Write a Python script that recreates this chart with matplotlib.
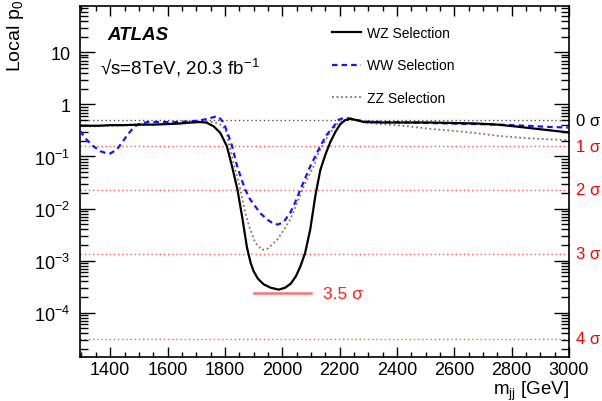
import matplotlib
matplotlib.use("Agg")
import matplotlib.pyplot as plt
import matplotlib.transforms as mtransforms
from matplotlib.ticker import FixedLocator, LogLocator, MultipleLocator, NullFormatter

plt.rcParams["font.family"] = ["Liberation Sans", "DejaVu Sans"]
plt.rcParams["mathtext.fontset"] = "custom"
plt.rcParams["mathtext.rm"] = "Liberation Sans"
plt.rcParams["mathtext.it"] = "Liberation Sans:italic"
plt.rcParams["mathtext.bf"] = "Liberation Sans:bold"

# WZ selection (black solid)
wz_mass = [1295, 1320, 1360, 1400, 1450, 1500, 1550, 1600, 1640, 1680, 1710, 1735,
           1761, 1784, 1807, 1825, 1844, 1860, 1877, 1890, 1900, 1915, 1935, 1960,
           1988, 2010, 2030, 2048, 2063, 2080, 2098, 2116, 2133, 2151, 2168, 2186,
           2203, 2220, 2238, 2260, 2285, 2350, 2420, 2517, 2600, 2680, 2750, 2810,
           2867, 2930, 3000]
wz_p0 = [0.39, 0.39, 0.39, 0.40, 0.40, 0.41, 0.41, 0.42, 0.43, 0.45, 0.46, 0.45,
         0.38, 0.285, 0.158, 0.065, 0.023, 0.0071, 0.0018, 0.0009, 0.00063, 0.00045,
         0.00035, 0.0003, 0.000276, 0.0003, 0.00036, 0.0005, 0.00076, 0.0014,
         0.004, 0.018, 0.055, 0.11, 0.19, 0.3, 0.42, 0.5, 0.53, 0.5, 0.46, 0.45,
         0.45, 0.45, 0.44, 0.43, 0.41, 0.38, 0.35, 0.32, 0.29]

# WW selection (blue dashed)
ww_mass = [1295, 1305, 1318, 1340, 1365, 1385, 1400, 1423, 1446, 1460, 1476, 1490,
           1505, 1532, 1580, 1630, 1672, 1710, 1740, 1765, 1778, 1795, 1810, 1825,
           1842, 1857, 1871, 1888, 1906, 1925, 1947, 1965, 1984, 2005, 2028, 2045,
           2063, 2080, 2098, 2115, 2133, 2155, 2180, 2197, 2215, 2235, 2260, 2290,
           2350, 2450, 2517, 2600, 2680, 2750, 2850, 2930, 3000]
ww_p0 = [0.31, 0.26, 0.21, 0.16, 0.127, 0.116, 0.114, 0.136, 0.2, 0.26, 0.33, 0.39,
         0.43, 0.46, 0.46, 0.46, 0.47, 0.49, 0.53, 0.58, 0.58, 0.45, 0.28, 0.16,
         0.068, 0.038, 0.023, 0.015, 0.011, 0.008, 0.0062, 0.0053, 0.0049, 0.0055,
         0.0083, 0.013, 0.023, 0.038, 0.065, 0.1, 0.158, 0.26, 0.38, 0.51, 0.55,
         0.54, 0.5, 0.47, 0.46, 0.45, 0.44, 0.43, 0.42, 0.41, 0.39, 0.37, 0.36]

# ZZ selection (brown dotted)
zz_mass = [1295, 1350, 1400, 1450, 1500, 1550, 1600, 1650, 1700, 1730, 1753, 1770,
           1790, 1805, 1816, 1835, 1854, 1870, 1885, 1906, 1930, 1950, 1982, 2005,
           2028, 2050, 2070, 2090, 2110, 2125, 2140, 2165, 2192, 2215, 2235, 2260,
           2285, 2350, 2420, 2517, 2600, 2680, 2750, 2830, 2920, 3000]
zz_p0 = [0.38, 0.38, 0.39, 0.40, 0.41, 0.41, 0.42, 0.43, 0.45, 0.46, 0.46, 0.44,
         0.4, 0.3, 0.159, 0.06, 0.023, 0.009, 0.0045, 0.0022, 0.0016, 0.0017,
         0.0025, 0.0038, 0.0062, 0.012, 0.023, 0.04, 0.065, 0.11, 0.16, 0.28, 0.42,
         0.5, 0.53, 0.5, 0.45, 0.42, 0.39, 0.34, 0.31, 0.28, 0.25, 0.23, 0.215, 0.205]

sigma_p0 = [0.5, 0.1587, 0.02275, 0.00135, 3.17e-5]
sigma_labels = ["0 σ", "1 σ", "2 σ", "3 σ", "4 σ"]
sigma_colors = ["black", "red", "red", "red", "red"]
line_35_mass = [1900, 2100]
line_35_p0 = 2.33e-4

y_ticks = [1e-4, 1e-3, 1e-2, 1e-1, 1, 10]
y_tick_labels = ["$10^{-4}$", "$10^{-3}$", "$10^{-2}$", "$10^{-1}$", "1", "10"]
x_ticks = [1400, 1600, 1800, 2000, 2200, 2400, 2600, 2800, 3000]

fig = plt.figure(figsize=(6.02, 4.02), dpi=100)
ax = fig.add_axes([0.133, 0.1095, 0.812, 0.873])
ax.set_yscale("log")
ax.set_xlim(1295, 3000)
ax.set_ylim(1.4e-5, 78)

trans = mtransforms.blended_transform_factory(ax.transAxes, ax.transData)
for p, lab, col in zip(sigma_p0, sigma_labels, sigma_colors):
    lc = "#555555" if col == "black" else "#ff5a5a"
    ax.axhline(p, color=lc, lw=1.0, ls=(0, (1, 2)), zorder=1)
    ax.text(1.014, p, lab, transform=trans, color=col, fontsize=12,
            va="center", ha="left", clip_on=False)

ax.plot(line_35_mass, [line_35_p0, line_35_p0], color="#ff7070", lw=1.8)
ax.text(2144, line_35_p0, "3.5 σ", color="#ff2020", fontsize=12.5,
        va="center", ha="left")

ax.plot(wz_mass, wz_p0, color="black", lw=1.6, label="WZ Selection", zorder=4)
ax.plot(ww_mass, ww_p0, color="#1515ff", lw=1.6, ls=(0, (2.5, 1.8)),
        label="WW Selection", zorder=3)
ax.plot(zz_mass, zz_p0, color="#8a7060", lw=1.3, ls=(0, (1, 1.5)),
        label="ZZ Selection", zorder=2)

ax.yaxis.set_major_locator(FixedLocator(y_ticks))
ax.set_yticklabels(y_tick_labels)
ax.yaxis.set_minor_locator(LogLocator(base=10, subs=range(2, 10), numticks=20))
ax.yaxis.set_minor_formatter(NullFormatter())
ax.xaxis.set_major_locator(FixedLocator(x_ticks))
ax.xaxis.set_minor_locator(MultipleLocator(50))

ax.tick_params(which="both", direction="in", top=True, right=True, labelsize=13)
ax.tick_params(axis="y", which="major", length=10.5, width=1.0, pad=7)
ax.tick_params(axis="y", which="minor", length=5.5, width=1.0)
ax.tick_params(axis="x", which="major", length=7, width=1.0, pad=3)
ax.tick_params(axis="x", which="minor", length=3.5, width=1.0)
for s in ax.spines.values():
    s.set_linewidth(1.2)

ax.set_ylabel("Local p$_0$", fontsize=14, loc="top")
ax.yaxis.set_label_coords(-0.11, 1.02)
ax.set_xlabel(r"m$_{\mathrm{jj}}$ [GeV]", fontsize=13.5, loc="right")
ax.xaxis.set_label_coords(1.0, -0.062)

ax.text(0.055, 0.92, "ATLAS", transform=ax.transAxes, fontsize=13.5,
        fontweight="bold", fontstyle="italic", va="center")
ax.text(0.041, 0.827, "√s=8TeV, 20.3 fb$^{-1}$", transform=ax.transAxes,
        fontsize=13.5, va="center")

ax.legend(loc="upper left", bbox_to_anchor=(0.515, 0.944), frameon=False,
          fontsize=10, handlelength=2.1, handletextpad=0.45, labelspacing=1.35,
          borderpad=0, borderaxespad=0)

fig.savefig("out.png", dpi=100)
